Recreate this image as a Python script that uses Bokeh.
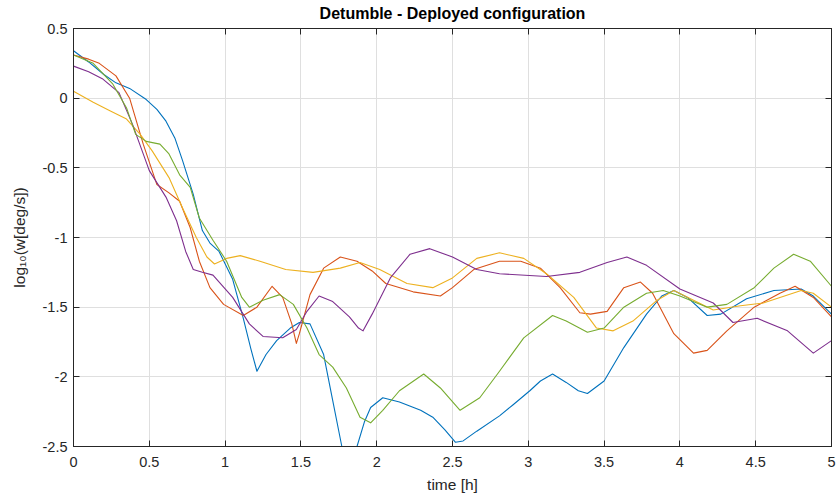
from bokeh.plotting import figure
from bokeh.models import FixedTicker, LinearAxis, Range1d, CustomLabelingPolicy
from bokeh.embed import file_html
from bokeh.resources import INLINE

# --- data ---
t_blue = [0, 0.1, 0.2, 0.28, 0.37, 0.48, 0.55, 0.61, 0.67, 0.72, 0.79, 0.85, 0.9, 0.96, 1.05, 1.12, 1.17, 1.21, 1.27, 1.34, 1.43, 1.49, 1.56, 1.65, 1.71, 1.77, 1.82, 1.87, 1.92, 1.96, 2.04, 2.15, 2.29, 2.37, 2.45, 2.52, 2.57, 2.66, 2.81, 2.9, 3.01, 3.08, 3.16, 3.25, 3.33, 3.39, 3.50, 3.63, 3.78, 3.88, 3.96, 4.05, 4.18, 4.27, 4.44, 4.62, 4.80, 4.88, 5.0]
v_blue = [0.34, 0.26, 0.17, 0.11, 0.07, -0.01, -0.08, -0.165, -0.29, -0.45, -0.69, -0.95, -1.04, -1.1, -1.3, -1.58, -1.8, -1.96, -1.84, -1.74, -1.65, -1.61, -1.62, -1.84, -2.17, -2.5, -2.75, -2.5, -2.32, -2.22, -2.15, -2.18, -2.24, -2.29, -2.38, -2.47, -2.46, -2.39, -2.28, -2.2, -2.1, -2.03, -1.98, -2.04, -2.1, -2.12, -2.03, -1.79, -1.55, -1.42, -1.38, -1.43, -1.56, -1.55, -1.44, -1.38, -1.37, -1.42, -1.55]

t_red = [0, 0.1, 0.17, 0.28, 0.37, 0.46, 0.55, 0.63, 0.70, 0.77, 0.83, 0.90, 0.99, 1.12, 1.21, 1.31, 1.38, 1.44, 1.47, 1.49, 1.56, 1.65, 1.76, 1.87, 1.97, 2.06, 2.24, 2.42, 2.50, 2.64, 2.81, 2.95, 3.08, 3.21, 3.34, 3.41, 3.52, 3.63, 3.74, 3.82, 3.96, 4.09, 4.18, 4.31, 4.49, 4.66, 4.76, 4.88, 5.0]
v_red = [0.31, 0.28, 0.25, 0.16, 0.0, -0.33, -0.62, -0.68, -0.74, -0.93, -1.17, -1.36, -1.48, -1.56, -1.50, -1.35, -1.43, -1.62, -1.76, -1.69, -1.41, -1.22, -1.14, -1.17, -1.24, -1.33, -1.39, -1.42, -1.36, -1.23, -1.17, -1.17, -1.22, -1.36, -1.54, -1.55, -1.53, -1.36, -1.32, -1.40, -1.69, -1.83, -1.81, -1.67, -1.50, -1.40, -1.35, -1.43, -1.57]

t_yellow = [0, 0.13, 0.24, 0.35, 0.44, 0.52, 0.63, 0.72, 0.81, 0.88, 0.93, 1.01, 1.10, 1.23, 1.40, 1.58, 1.76, 1.89, 2.02, 2.20, 2.37, 2.50, 2.66, 2.81, 2.97, 3.12, 3.30, 3.45, 3.56, 3.69, 3.85, 3.96, 4.09, 4.22, 4.40, 4.55, 4.80, 4.88, 5.0]
v_yellow = [0.05, -0.03, -0.09, -0.15, -0.26, -0.38, -0.57, -0.79, -1.0, -1.14, -1.19, -1.15, -1.13, -1.17, -1.23, -1.25, -1.22, -1.18, -1.23, -1.33, -1.36, -1.29, -1.15, -1.11, -1.15, -1.26, -1.43, -1.65, -1.67, -1.60, -1.45, -1.38, -1.45, -1.52, -1.49, -1.47, -1.38, -1.40, -1.50]

t_purple = [0, 0.1, 0.19, 0.30, 0.39, 0.50, 0.61, 0.68, 0.74, 0.79, 0.85, 0.92, 1.05, 1.16, 1.25, 1.38, 1.47, 1.54, 1.62, 1.71, 1.82, 1.88, 1.91, 1.97, 2.09, 2.22, 2.35, 2.50, 2.66, 2.81, 3.12, 3.34, 3.52, 3.65, 3.78, 4.00, 4.11, 4.22, 4.35, 4.51, 4.71, 4.88, 5.0]
v_purple = [0.23, 0.19, 0.14, 0.04, -0.19, -0.52, -0.71, -0.88, -1.10, -1.23, -1.25, -1.27, -1.43, -1.62, -1.71, -1.72, -1.66, -1.53, -1.42, -1.46, -1.57, -1.65, -1.67, -1.55, -1.29, -1.12, -1.08, -1.14, -1.23, -1.26, -1.28, -1.25, -1.18, -1.14, -1.20, -1.37, -1.42, -1.47, -1.61, -1.58, -1.67, -1.83, -1.74]

t_green = [0, 0.13, 0.26, 0.35, 0.41, 0.48, 0.57, 0.63, 0.70, 0.77, 0.83, 0.92, 1.01, 1.11, 1.16, 1.25, 1.36, 1.45, 1.54, 1.62, 1.71, 1.80, 1.89, 1.96, 2.04, 2.15, 2.31, 2.42, 2.55, 2.68, 2.81, 2.97, 3.16, 3.25, 3.39, 3.50, 3.63, 3.78, 3.89, 4.00, 4.18, 4.31, 4.49, 4.62, 4.75, 4.86, 5.0]
v_green = [0.31, 0.25, 0.10, -0.07, -0.26, -0.31, -0.33, -0.40, -0.55, -0.64, -0.86, -1.02, -1.17, -1.43, -1.50, -1.45, -1.41, -1.48, -1.65, -1.84, -1.93, -2.08, -2.29, -2.33, -2.24, -2.10, -1.98, -2.08, -2.24, -2.15, -1.96, -1.72, -1.56, -1.60, -1.68, -1.65, -1.50, -1.40, -1.38, -1.42, -1.50, -1.48, -1.36, -1.22, -1.12, -1.17, -1.35]

x_ticks = [0, 0.5, 1, 1.5, 2, 2.5, 3, 3.5, 4, 4.5, 5]
x_tick_labels = ["0", "0.5", "1", "1.5", "2", "2.5", "3", "3.5", "4", "4.5", "5"]
y_ticks = [-2.5, -2, -1.5, -1, -0.5, 0, 0.5]
y_tick_labels = ["-2.5", "-2", "-1.5", "-1", "-0.5", "0", "0.5"]

series = [
    (t_blue, v_blue, "#0072BD"),
    (t_red, v_red, "#D95319"),
    (t_yellow, v_yellow, "#EDB120"),
    (t_purple, v_purple, "#7E2F8E"),
    (t_green, v_green, "#77AC30"),
]

FONT = "Liberation Sans"
AX = "#262626"

p = figure(width=836, height=502, output_backend="svg", toolbar_location=None,
           x_range=Range1d(0, 5), y_range=Range1d(-2.5, 0.5),
           min_border_left=73, min_border_right=5, min_border_top=27, min_border_bottom=56,
           title="Detumble - Deployed configuration")
p.title.align = "center"
p.title.text_font = FONT
p.title.text_font_size = "16px"
p.title.text_font_style = "bold"
p.title.text_color = "#000000"
p.title.standoff = 5
p.title.offset = 0

p.outline_line_color = AX
p.outline_line_width = 1
p.outline_line_alpha = 1
p.background_fill_color = "white"
p.border_fill_color = "white"

for t, v, c in series:
    p.line(t, v, line_color=c, line_width=1.1, line_join="round")

hide_all = CustomLabelingPolicy(code="""
for (const i of [...indices]) { indices.unset(i) }
return indices
""")

def style_axis(ax, ticks, labels, show_labels=True):
    ax.ticker = FixedTicker(ticks=ticks)
    ax.major_label_overrides = {k: l for k, l in zip(ticks, labels)}
    ax.major_tick_in = 6
    ax.major_tick_out = 0
    ax.minor_tick_in = 0
    ax.minor_tick_out = 0
    ax.axis_line_color = AX
    ax.major_tick_line_color = AX
    ax.major_label_text_font = FONT
    ax.major_label_text_color = AX
    if show_labels:
        ax.major_label_text_font_size = "14.5px"
    else:
        ax.major_label_text_font_size = "1px"
        ax.major_label_standoff = 0
        ax.major_label_policy = hide_all

xa = p.xaxis[0]
ya = p.yaxis[0]
style_axis(xa, x_ticks, x_tick_labels)
style_axis(ya, y_ticks, y_tick_labels)
xa.major_label_standoff = 10
ya.major_label_standoff = 6

xa.axis_label = "time [h]"
ya.axis_label = "log\u2081\u2080(w[deg/s])"
for ax in (xa, ya):
    ax.axis_label_text_font = FONT
    ax.axis_label_text_font_size = "15.5px"
    ax.axis_label_text_font_style = "normal"
    ax.axis_label_text_color = AX
xa.axis_label_standoff = 6
ya.axis_label_standoff = 12

top = LinearAxis()
right = LinearAxis()
style_axis(top, x_ticks, x_tick_labels, show_labels=False)
style_axis(right, y_ticks, y_tick_labels, show_labels=False)
p.add_layout(top, "above")
p.add_layout(right, "right")

p.xgrid.ticker = FixedTicker(ticks=x_ticks)
p.ygrid.ticker = FixedTicker(ticks=y_ticks)
for g in (p.xgrid[0], p.ygrid[0]):
    g.grid_line_color = "#DFDFDF"
    g.grid_line_width = 1

open("out.html", "w").write(file_html(p, INLINE))
